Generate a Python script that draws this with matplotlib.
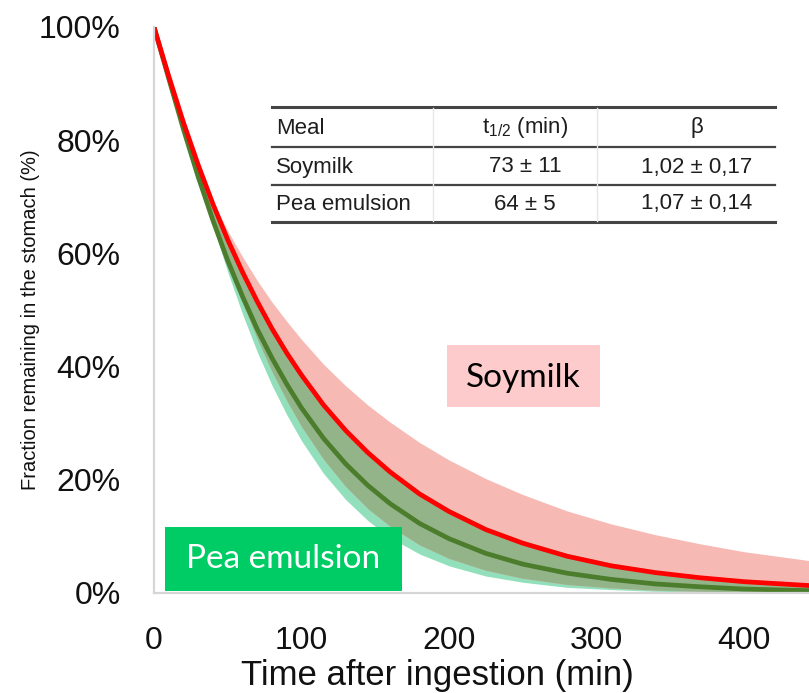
import matplotlib
matplotlib.use("Agg")
import matplotlib.pyplot as plt
import numpy as np
from matplotlib.lines import Line2D
from matplotlib.patches import Rectangle

plt.rcParams['font.family'] = ['Liberation Sans', 'DejaVu Sans']
plt.rcParams['mathtext.default'] = 'regular'

# values (time in min, fraction in %)
time_min = [0, 10, 20, 30, 40, 50, 60, 70, 80, 90, 100, 115, 130, 145, 160,
            180, 200, 225, 250, 280, 310, 340, 370, 400, 445]
soy_mean = [100, 91.3, 83.1, 75.6, 68.7, 62.4, 56.7, 51.5, 46.7, 42.4, 38.5, 33.2, 28.7, 24.8, 21.4,
            17.5, 14.4, 11.2, 8.8, 6.5, 4.8, 3.6, 2.7, 2.0, 1.3]
soy_high = [100, 89.3, 81.5, 74.9, 69.1, 64.0, 59.4, 55.2, 51.4, 48.0, 44.8, 40.4, 36.6, 33.2, 30.2,
            26.6, 23.5, 20.2, 17.4, 14.5, 12.2, 10.3, 8.7, 7.3, 5.7]
soy_low = [100, 92.4, 83.5, 74.7, 66.3, 58.5, 51.3, 44.9, 39.1, 34.0, 29.4, 23.6, 18.8, 14.9, 11.8,
           8.5, 6.1, 4.0, 2.6, 1.5, 0.9, 0.5, 0.3, 0.2, 0.1]
pea_mean = [100, 90.9, 81.9, 73.5, 65.8, 58.7, 52.4, 46.6, 41.5, 36.9, 32.7, 27.3, 22.8, 19.0, 15.8,
            12.3, 9.6, 7.0, 5.1, 3.5, 2.4, 1.6, 1.1, 0.7, 0.4]
pea_high = [100, 91.0, 82.8, 75.3, 68.4, 62.1, 56.5, 51.3, 46.6, 42.3, 38.4, 33.3, 28.9, 25.1, 21.8,
            18.0, 14.9, 11.7, 9.3, 7.0, 5.3, 4.0, 3.1, 2.4, 1.7]
pea_low = [100, 92.2, 82.9, 73.7, 64.9, 56.7, 49.3, 42.6, 36.7, 31.5, 26.9, 21.1, 16.5, 12.8, 9.8,
           6.9, 4.8, 3.0, 1.9, 1.0, 0.6, 0.3, 0.2, 0.1, 0.0]

x_ticks = [0, 100, 200, 300, 400]
y_ticks = [0, 20, 40, 60, 80, 100]
y_tick_labels = ['0%', '20%', '40%', '60%', '80%', '100%']

table_header = ['Meal', 't$_{1/2}$ (min)', 'β']
table_rows = [['Soymilk', '73 ± 11', '1,02 ± 0,17'],
              ['Pea emulsion', '64 ± 5', '1,07 ± 0,14']]

W, H = 809, 693


def fx(x):
    return x / W


def fy(y):
    return 1 - y / H


fig = plt.figure(figsize=(W / 100, H / 100), dpi=100)
ax = fig.add_axes([fx(154), fy(593), (W - 154) / W, (593 - 27) / H])

t = np.array(time_min)
s_lo, s_hi = np.array(soy_low), np.array(soy_high)
p_lo, p_hi = np.array(pea_low), np.array(pea_high)
ov_lo = np.maximum(s_lo, p_lo)
ov_hi = np.minimum(s_hi, p_hi)

# bands: mint (pea), pink (soymilk), olive where they overlap
ax.fill_between(t, p_lo, p_hi, color='#92dfbb', lw=0)
ax.fill_between(t, s_lo, s_hi, color='#f6b9b3', lw=0)
ax.fill_between(t, ov_lo, ov_hi, where=ov_hi > ov_lo, interpolate=True,
                color='#93b489', lw=0)
ax.plot(t, pea_mean, color='#4b7d2c', lw=3.4, solid_capstyle='butt')
ax.plot(t, soy_mean, color='#ff0000', lw=3.4, solid_capstyle='butt')

ax.set_xlim(0, (W - 154) / 1.475)
ax.set_ylim(0, 100)
ax.set_xticks(x_ticks)
ax.set_yticks(y_ticks)
ax.set_yticklabels(y_tick_labels)
ax.tick_params(length=0, labelsize=23, pad=24, colors='#111111')
for side in ['top', 'right']:
    ax.spines[side].set_visible(False)
for side in ['left', 'bottom']:
    ax.spines[side].set_color('#d6d6d6')
    ax.spines[side].set_linewidth(1.6)

ax.set_xlabel('Time after ingestion (min)', fontsize=25, color='#111111', va='center')
ax.xaxis.set_label_coords((437 - 154) / (W - 154), (593 - 675) / 566)
ax.set_ylabel('Fraction remaining in the stomach (%)', fontsize=14.5, color='#111111', va='center')
ax.yaxis.set_label_coords((31 - 154) / (W - 154), (593 - 320) / 566)

# table
for y, lw in [(107, 2.2), (147, 1.6), (185, 1.6), (222, 2.2)]:
    fig.add_artist(Line2D([fx(272), fx(775)], [fy(y), fy(y)], color='#444444', lw=lw))
for x in [433, 597]:
    fig.add_artist(Line2D([fx(x), fx(x)], [fy(108), fy(221)], color='#e6e6e6', lw=1))
col_x = [276, 525, 697]
col_ha = ['left', 'center', 'center']
row_y = [128, 167, 204]
for row, y in zip([table_header] + table_rows, row_y):
    for txt, x, ha in zip(row, col_x, col_ha):
        fig.text(fx(x), fy(y), txt, fontsize=16, ha=ha, va='center', color='#1e1e1e')

# series labels
fig.add_artist(Rectangle((fx(447), fy(407)), (600 - 447) / W, (407 - 345) / H,
                         color='#fdcbcb', lw=0))
fig.text(fx(523), fy(378), 'Soymilk', fontsize=24, family='Lato', ha='center', va='center',
         color='black')
fig.add_artist(Rectangle((fx(165), fy(591)), (402 - 165) / W, (591 - 527) / H,
                         color='#00cc66', lw=0))
fig.text(fx(283), fy(559), 'Pea emulsion', fontsize=24, family='Lato', ha='center', va='center',
         color='white')

fig.savefig('out.png', dpi=100)
